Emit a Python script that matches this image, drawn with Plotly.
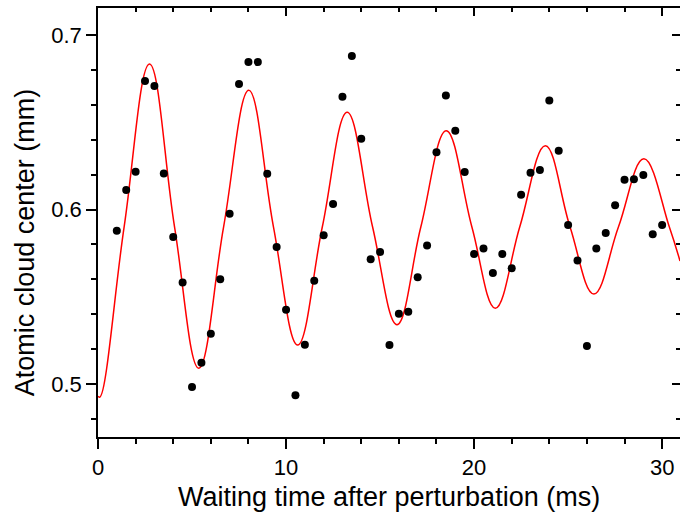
import plotly.graph_objects as go

# Measured data points
time_ms = [1.0, 1.5, 2.0, 2.5, 3.0, 3.5, 4.0, 4.5, 5.0, 5.5, 6.0, 6.5, 7.0, 7.5, 8.0, 8.5,
           9.0, 9.5, 10.0, 10.5, 11.0, 11.5, 12.0, 12.5, 13.0, 13.5, 14.0, 14.5, 15.0, 15.5,
           16.0, 16.5, 17.0, 17.5, 18.0, 18.5, 19.0, 19.5, 20.0, 20.5, 21.0, 21.5, 22.0, 22.5,
           23.0, 23.5, 24.0, 24.5, 25.0, 25.5, 26.0, 26.5, 27.0, 27.5, 28.0, 28.5, 29.0, 29.5, 30.0]
center_mm = [0.5878, 0.6112, 0.6217, 0.6736, 0.6708, 0.6207, 0.5842, 0.5581, 0.4983, 0.5122,
             0.5288, 0.5600, 0.5976, 0.6719, 0.6845, 0.6845, 0.6205, 0.5785, 0.5426, 0.4935,
             0.5225, 0.5592, 0.5852, 0.6032, 0.6646, 0.6880, 0.6406, 0.5715, 0.5756, 0.5223,
             0.5403, 0.5414, 0.5611, 0.5793, 0.6328, 0.6654, 0.6452, 0.6215, 0.5745, 0.5777,
             0.5636, 0.5745, 0.5663, 0.6085, 0.6211, 0.6226, 0.6625, 0.6337, 0.5911, 0.5707,
             0.5218, 0.5777, 0.5865, 0.6024, 0.6171, 0.6173, 0.6198, 0.5858, 0.5911]

# Fit curve: extrema and mid-level crossings
fit_t = [0.0, 0.1, 1.39, 2.74, 4.07, 5.36, 6.68, 8.02, 9.33, 10.62, 11.93, 13.25, 14.60,
         15.9, 17.17, 18.52, 19.88, 21.13, 22.43, 23.79, 25.10, 26.37, 27.68, 29.03, 30.38, 30.95]
fit_y = [0.4930, 0.4925, 0.5901, 0.6834, 0.5901, 0.5090, 0.5901, 0.6683, 0.5901, 0.5223,
         0.5901, 0.6557, 0.5901, 0.5340, 0.5901, 0.6452, 0.5901, 0.5434, 0.5901, 0.6366,
         0.5901, 0.5516, 0.5901, 0.6291, 0.5901, 0.5705]

x_range = [0, 30.95]
y_range = [0.4696, 0.7155]
x_tickvals = [0, 10, 20, 30]
y_tickvals = [0.5, 0.6, 0.7]
y_ticktext = ["0.5", "0.6", "0.7"]

FONT = "Liberation Sans, Arial, sans-serif"

fig = go.Figure()
fig.add_trace(go.Scatter(x=fit_t, y=fit_y, mode="lines",
                         line=dict(color="#ff0000", width=1.5, shape="spline", smoothing=1.15),
                         hoverinfo="skip", showlegend=False))
fig.add_trace(go.Scatter(x=time_ms, y=center_mm, mode="markers",
                         marker=dict(color="black", size=8, line=dict(width=0)),
                         showlegend=False))
# invisible trace to activate mirror axes
fig.add_trace(go.Scatter(x=time_ms, y=center_mm, mode="markers", xaxis="x2", yaxis="y2",
                         marker=dict(opacity=0), hoverinfo="skip", showlegend=False))

axis_common = dict(showgrid=False, zeroline=False, linecolor="black", linewidth=1.5,
                   tickcolor="black", tickwidth=1.5)

fig.update_layout(
    width=680, height=523,
    margin=dict(l=98, r=0, t=8, b=86),
    plot_bgcolor="white", paper_bgcolor="white",
    font=dict(family=FONT, color="black"),
    xaxis=dict(range=x_range, showline=True, ticks="outside", ticklen=10,
               tickvals=x_tickvals, tickfont=dict(size=22, family=FONT),
               minor=dict(dtick=2, tick0=0, ticks="outside", ticklen=5, tickwidth=1.5,
                          tickcolor="black"),
               **axis_common),
    xaxis2=dict(range=x_range, overlaying="x", side="top", showline=True, ticks="inside",
                ticklen=8, tickvals=x_tickvals, showticklabels=False,
                minor=dict(dtick=2, tick0=0, ticks="inside", ticklen=4, tickwidth=1.5,
                           tickcolor="black"),
                **axis_common),
    yaxis=dict(range=y_range, showline=True, ticks="outside", ticklen=10,
               tickvals=y_tickvals, ticktext=y_ticktext, tickfont=dict(size=22, family=FONT),
               minor=dict(dtick=0.02, tick0=0.5, ticks="outside", ticklen=5, tickwidth=1.5,
                          tickcolor="black"),
               **axis_common),
    yaxis2=dict(range=y_range, overlaying="y", side="right", showline=False, ticks="inside",
                ticklen=8, tickvals=y_tickvals, showticklabels=False,
                minor=dict(dtick=0.02, tick0=0.5, ticks="inside", ticklen=4, tickwidth=1.5,
                           tickcolor="black"),
                **axis_common),
    annotations=[
        dict(text="Waiting time after perturbation (ms)", xref="paper", yref="paper",
             x=0.5, y=-0.14, xanchor="center", yanchor="middle", showarrow=False,
             font=dict(size=27, family=FONT, color="black")),
        dict(text="Atomic cloud center (mm)", xref="paper", yref="paper",
             x=-0.124, y=0.4534, xanchor="center", yanchor="middle", showarrow=False,
             textangle=-90, font=dict(size=27, family=FONT, color="black")),
    ],
)

fig.write_html("out.html")
